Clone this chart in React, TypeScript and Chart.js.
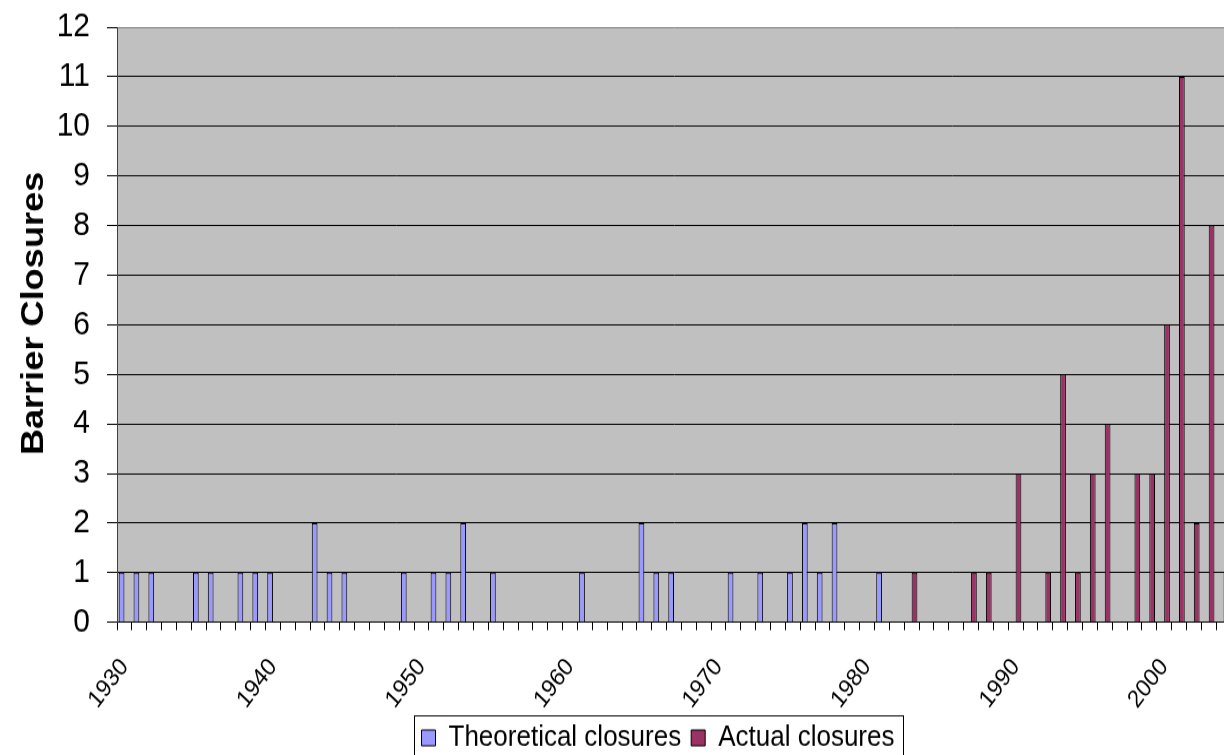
import React, { useEffect, useRef } from 'react';
import { Chart, registerables } from 'chart.js';

Chart.register(...registerables);

const years = [
  '1930', '1931', '1932', '1933', '1934', '1935', '1936', '1937', '1938', '1939',
  '1940', '1941', '1942', '1943', '1944', '1945', '1946', '1947', '1948', '1949',
  '1950', '1951', '1952', '1953', '1954', '1955', '1956', '1957', '1958', '1959',
  '1960', '1961', '1962', '1963', '1964', '1965', '1966', '1967', '1968', '1969',
  '1970', '1971', '1972', '1973', '1974', '1975', '1976', '1977', '1978', '1979',
  '1980', '1981', '1982', '1983', '1984', '1985', '1986', '1987', '1988', '1989',
  '1990', '1991', '1992', '1993', '1994', '1995', '1996', '1997', '1998', '1999',
  '2000', '2001', '2002', '2003', '2004',
];
const xTickLabels = ['1930', '1940', '1950', '1960', '1970', '1980', '1990', '2000'];

const theoreticalYears = [
  '1930', '1931', '1932', '1935', '1936', '1938', '1939', '1940', '1943', '1944',
  '1945', '1949', '1951', '1952', '1953', '1955', '1961', '1965', '1966', '1967',
  '1971', '1973', '1975', '1976', '1977', '1978', '1981',
];
const theoreticalCounts = [1, 1, 1, 1, 1, 1, 1, 1, 2, 1, 1, 1, 1, 1, 2, 1, 1, 2, 1, 1, 1, 1, 1, 2, 1, 2, 1];

const actualYears = [
  '1983', '1987', '1988', '1990', '1992', '1993', '1994', '1995', '1996', '1998',
  '1999', '2000', '2001', '2002', '2003', '2004',
];
const actualCounts = [1, 1, 1, 3, 1, 5, 1, 3, 4, 3, 3, 6, 11, 2, 8, 1];

const yTitle = 'Barrier Closures';
const yMin = 0;
const yMax = 12;
const yStep = 1;

const STRETCH = 1.13;
const W = 1316;
const H = 690;
const PAD_TOP = 24;
const PAD_BOTTOM = 14;
const AREA_BOTTOM = 550.7;
const FONT = '"Liberation Sans", Arial, sans-serif';

const seriesFor = (ys: string[], cs: number[]) =>
  years.map((y) => {
    const i = ys.indexOf(y);
    return i >= 0 ? cs[i] : null;
  });

const plotBackground = {
  id: 'plotBackground',
  beforeDraw(chart: any) {
    const { ctx, chartArea } = chart;
    ctx.save();
    ctx.fillStyle = '#C0C0C0';
    ctx.fillRect(chartArea.left, chartArea.top, chartArea.right - chartArea.left, chartArea.bottom - chartArea.top);
    ctx.restore();
  },
};

const legendBorder = {
  id: 'legendBorder',
  afterDraw(chart: any) {
    const lg = chart.legend;
    if (!lg || !lg.lineWidths) return;
    const pad = lg.options.labels.padding;
    const lw = lg.lineWidths[0];
    const x0 = (lg.left + pad + lg.right - lw) / 2;
    const x1 = x0 + lw - pad;
    const { ctx } = chart;
    ctx.save();
    ctx.strokeStyle = '#000';
    ctx.lineWidth = 1;
    ctx.strokeRect(Math.round(x0 - 8) + 0.5, Math.round(lg.top + 3) + 0.5, Math.round(x1 - x0 + 16), Math.round(lg.height + 20));
    ctx.restore();
  },
};

const yAxisTitle = {
  id: 'yAxisTitle',
  afterDraw(chart: any) {
    const { ctx } = chart;
    ctx.save();
    ctx.translate(34, 277.4);
    ctx.rotate(-Math.PI / 2);
    ctx.fillStyle = '#000';
    ctx.font = `bold 32px ${FONT}`;
    ctx.textAlign = 'center';
    ctx.textBaseline = 'middle';
    ctx.fillText(yTitle, 0, 0);
    ctx.restore();
  },
};

export default function App() {
  const ref = useRef<HTMLCanvasElement>(null);

  useEffect(() => {
    const canvas = ref.current;
    if (!canvas) return;
    Chart.defaults.font.family = FONT;
    const chart = new Chart(canvas, {
      type: 'bar',
      data: {
        labels: years,
        datasets: [
          {
            label: 'Theoretical closures',
            data: seriesFor(theoreticalYears, theoreticalCounts),
            backgroundColor: '#9999FF',
            borderColor: '#000000',
            borderWidth: 1,
            categoryPercentage: 0.77,
            barPercentage: 1,
          },
          {
            label: 'Actual closures',
            data: seriesFor(actualYears, actualCounts),
            backgroundColor: '#993366',
            borderColor: '#000000',
            borderWidth: 1,
            categoryPercentage: 0.77,
            barPercentage: 1,
          },
        ],
      },
      options: {
        responsive: false,
        animation: false,
        devicePixelRatio: 1,
        layout: { padding: { top: PAD_TOP, bottom: PAD_BOTTOM, left: 0, right: 0 } },
        scales: {
          x: {
            type: 'category',
            offset: true,
            grid: {
              display: true,
              drawOnChartArea: false,
              drawTicks: true,
              tickLength: 7,
              color: '#000',
              offset: true,
            },
            border: { display: true, color: '#000', width: 1 },
            ticks: {
              autoSkip: false,
              minRotation: 50,
              maxRotation: 50,
              padding: 20,
              color: '#000',
              font: { size: 22 },
              callback: (_v: any, index: number) => (xTickLabels.includes(years[index]) ? years[index] : ''),
            },
            afterFit: (s: any) => {
              const lh = s.chart.legend ? s.chart.legend.height : 0;
              s.height = Math.max(10, H - PAD_BOTTOM - lh - AREA_BOTTOM);
            },
          },
          y: {
            type: 'linear',
            position: 'left',
            min: yMin,
            max: yMax,
            ticks: { stepSize: yStep, color: '#000', font: { size: 30 }, padding: 17 },
            grid: {
              color: (c: any) => (c.tick && c.tick.value === yMax ? '#808080' : '#000'),
              tickColor: '#000',
              tickLength: 10,
              drawTicks: true,
            },
            border: { display: true, color: '#404040', width: 1 },
            afterFit: (s: any) => {
              s.width = 117;
              s.paddingTop = 12;
              s.paddingBottom = 12;
            },
          },
          yRight: {
            type: 'linear',
            position: 'right',
            display: true,
            grid: { display: false },
            ticks: { display: false },
            border: { display: false },
            afterFit: (s: any) => {
              s.width = W - 1231;
              s.paddingTop = 0;
              s.paddingBottom = 0;
            },
          },
        },
        plugins: {
          legend: {
            position: 'bottom',
            labels: {
              color: '#000',
              font: { size: 26 },
              boxWidth: 14,
              boxHeight: 14,
              padding: 10,
            },
          },
          tooltip: { enabled: false },
        },
      },
      plugins: [plotBackground, legendBorder, yAxisTitle],
    } as any);
    return () => chart.destroy();
  }, []);

  return (
    <div
      style={{
        position: 'fixed',
        left: 0,
        top: 0,
        width: 1224,
        height: 755,
        overflow: 'hidden',
        background: '#fff',
      }}
    >
      <div style={{ width: W, height: H, transform: `scaleY(${STRETCH})`, transformOrigin: '0 0' }}>
        <canvas ref={ref} width={W} height={H} style={{ width: W, height: H, display: 'block' }} />
      </div>
    </div>
  );
}
